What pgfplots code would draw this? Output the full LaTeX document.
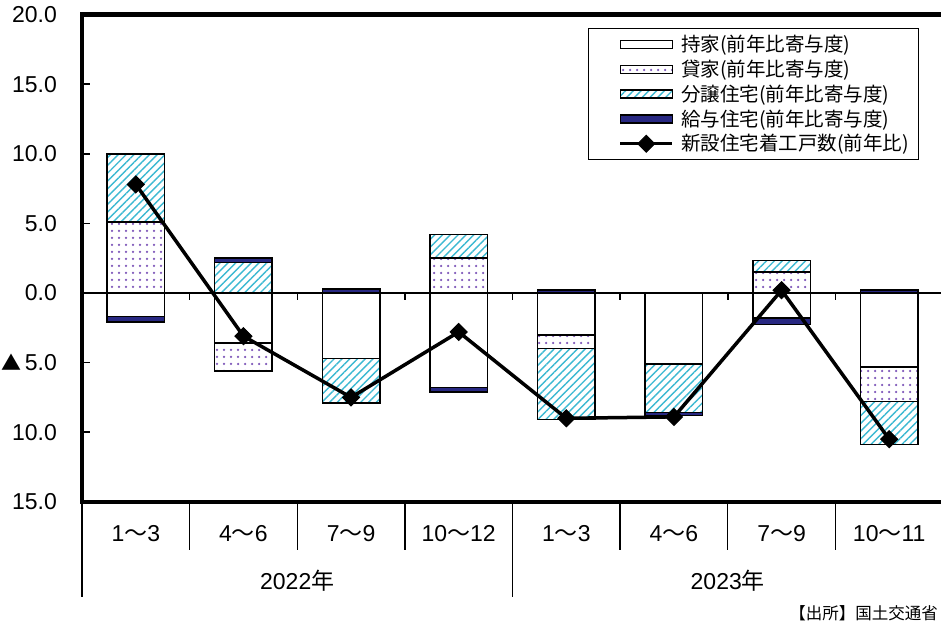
\documentclass[border=0pt]{standalone}
\usepackage{fontspec}
\setmainfont{Liberation Sans}
\newfontfamily\jp{Noto Sans CJK JP}
\usepackage{pgfplots}
\pgfplotsset{compat=1.18}
\usetikzlibrary{patterns.meta}
\definecolor{navyB}{RGB}{40,40,130}
\definecolor{hatchC}{RGB}{60,185,210}
\definecolor{dotP}{RGB}{125,85,185}
\newcommand{\wv}{{\jp 〜}}
\tikzset{
  mochi/.style={draw=black, line width=1.5pt, fill=white},
  kashi/.style={draw=black, line width=1.5pt, preaction={fill=white}, pattern={Dots[distance=7pt,radius=1.25pt]}, pattern color=dotP},
  bunjo/.style={draw=black, line width=1.5pt, preaction={fill=white}, pattern={Lines[angle=45,distance=5.5pt,line width=1.4pt]}, pattern color=hatchC},
  kyuyo/.style={draw=black, line width=1.5pt, fill=navyB},
}
\pgfplotsset{
  base/.style={scale only axis, width=861pt, height=487.2pt, xmin=0, xmax=8, ymin=-15, ymax=20,
    enlargelimits=false, at={(82pt,-501.8pt)}, anchor=south west, clip=false},
  barleg/.style={legend image code/.code={\draw[##1] (0pt,-4pt) rectangle (52pt,4pt); \path (-20pt,0pt) (59pt,0pt);}},
  linleg/.style={legend image code/.code={\draw[mark repeat=2,mark phase=2,##1] plot coordinates {(0pt,0pt) (26pt,0pt) (52pt,0pt)}; \path (-20pt,0pt) (59pt,0pt);}},
}
\begin{document}
\begin{tikzpicture}
\useasboundingbox (0pt,0pt) rectangle (941pt,-623pt);
% positive contributions
\begin{axis}[base,
  ybar stacked, bar width=57.5pt,
  axis line style={line width=4.5pt},
  ytick={-15,-10,...,20},
  yticklabels={15.0,10.0,{\jp\fontsize{20}{24}\selectfont ▲}\hspace{3pt}5.0,0.0,5.0,10.0,15.0,20.0},
  ytick pos=left, ytick align=inside, major tick length=8pt,
  ytick style={line width=1.5pt, black},
  yticklabel style={font=\fontsize{23}{27}\selectfont, anchor=east, inner sep=0pt, xshift=-25pt},
  xtick={0.5,1.5,2.5,3.5,4.5,5.5,6.5,7.5}, xtick pos=bottom,
  xtick style={draw=none},
  xticklabels={1\wv3,4\wv6,7\wv9,10\wv12,1\wv3,4\wv6,7\wv9,10\wv11},
  xticklabel style={font=\fontsize{23}{27}\selectfont, anchor=center, yshift=-32pt},
]
\addplot[kashi] coordinates {(0.5,5.1) (1.5,0) (2.5,0) (3.5,2.5) (4.5,0) (5.5,0) (6.5,1.5) (7.5,0)};
\addplot[bunjo] coordinates {(0.5,4.9) (1.5,2.2) (2.5,0) (3.5,1.7) (4.5,0) (5.5,0) (6.5,0.85) (7.5,0)};
\addplot[kyuyo] coordinates {(0.5,0) (1.5,0.3) (2.5,0.3) (3.5,0) (4.5,0.2) (5.5,0) (6.5,0) (7.5,0.2)};
\pgfplotsinvokeforeach{1,2,3,5,6,7}{\draw[line width=1.3pt] (axis cs:#1,-15) -- ++(0pt,-48pt);}
\pgfplotsinvokeforeach{0,4}{\draw[line width=1.3pt] (axis cs:#1,-15) -- ++(0pt,-95pt);}
\node[font=\fontsize{23}{27}\selectfont, yshift=-79pt] at (axis cs:2,-15) {2022{\jp 年}};
\node[font=\fontsize{23}{27}\selectfont, yshift=-79pt] at (axis cs:6,-15) {2023{\jp 年}};
\end{axis}
% negative contributions
\begin{axis}[base, hide axis, ybar stacked, bar width=57.5pt]
\addplot[mochi] coordinates {(0.5,-1.7) (1.5,-3.6) (2.5,-4.7) (3.5,-6.8) (4.5,-3.0) (5.5,-5.1) (6.5,-1.8) (7.5,-5.3)};
\addplot[kashi] coordinates {(0.5,0) (1.5,-2.0) (2.5,0) (3.5,0) (4.5,-1.0) (5.5,0) (6.5,0) (7.5,-2.5)};
\addplot[bunjo] coordinates {(0.5,0) (1.5,0) (2.5,-3.2) (3.5,0) (4.5,-5.1) (5.5,-3.5) (6.5,0) (7.5,-3.1)};
\addplot[kyuyo] coordinates {(0.5,-0.4) (1.5,0) (2.5,0) (3.5,-0.3) (4.5,0) (5.5,-0.2) (6.5,-0.45) (7.5,0)};
\end{axis}
% total line and legend
\begin{axis}[base, hide axis,
  legend cell align=left,
  legend style={at={(0.5877,0.9725)}, anchor=north west, draw=black, line width=1pt, fill=white,
    font=\jp\fontsize{19.5}{22}\selectfont, inner xsep=10pt, inner ysep=7pt, row sep=6.25pt,
    nodes={inner sep=0pt, text height=16.5pt, text depth=2pt}},
]
\draw[line width=1.5pt] (axis cs:0,0) -- (axis cs:8,0);
\pgfplotsinvokeforeach{1,2,3,4,5,6,7}{\draw[line width=1.5pt] (axis cs:#1,0) -- ++(0pt,-7pt);}
\addlegendimage{mochi,barleg}
\addlegendentry{持家(前年比寄与度)}
\addlegendimage{kashi,barleg}
\addlegendentry{貸家(前年比寄与度)}
\addlegendimage{bunjo,barleg}
\addlegendentry{分譲住宅(前年比寄与度)}
\addlegendimage{kyuyo,barleg}
\addlegendentry{給与住宅(前年比寄与度)}
\addplot[black, line width=3.5pt, mark=square*, mark size=6pt, mark options={rotate=45, line width=1pt}, linleg]
  coordinates {(0.5,7.8) (1.5,-3.1) (2.5,-7.5) (3.5,-2.8) (4.5,-9.0) (5.5,-8.9) (6.5,0.2) (7.5,-10.5)};
\addlegendentry{新設住宅着工戸数(前年比)}
\end{axis}
\node[anchor=east, font=\jp\fontsize{16.5}{18}\selectfont, inner sep=0pt] at (938pt,-613pt) {【出所】国土交通省};
\end{tikzpicture}
\end{document}
